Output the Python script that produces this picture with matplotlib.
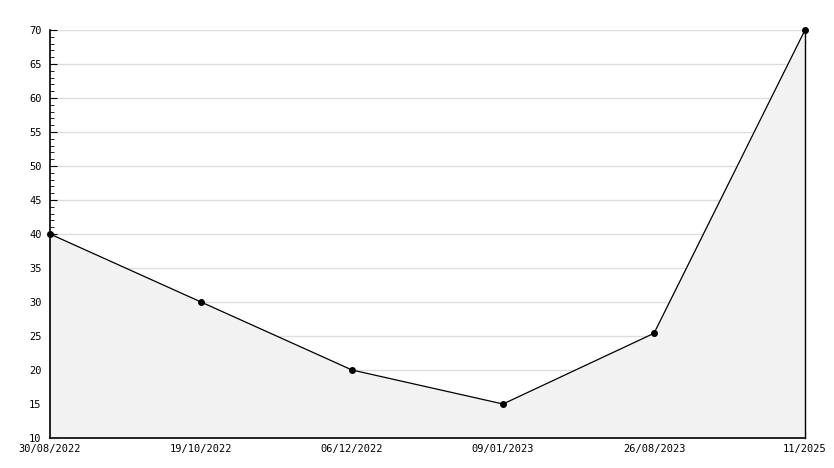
import matplotlib.pyplot as plt
from matplotlib.ticker import MultipleLocator

dates = ["30/08/2022", "19/10/2022", "06/12/2022", "09/01/2023", "26/08/2023", "11/2025"]
values = [40, 30, 20, 15, 25.4, 70]

plt.rcParams['font.family'] = ['DejaVu Sans Mono']

fig = plt.figure(figsize=(8.34, 4.68), dpi=100)
ax = fig.add_axes([50 / 834, 30 / 468, 755 / 834, 408 / 468])

x = list(range(len(dates)))
ax.fill_between(x, values, 10, color="#f2f2f2", zorder=1)
ax.plot([x[-1], x[-1]], [10, values[-1]], color="black", lw=1, zorder=2, clip_on=False)
ax.plot(x, values, color="black", lw=0.9, marker="o", markersize=4, zorder=3, clip_on=False)

ax.set_xlim(0, len(dates) - 1)
ax.set_ylim(10, 70)
ax.set_xticks(x)
ax.set_xticklabels(dates, fontsize=7.5)
ax.yaxis.set_major_locator(MultipleLocator(5))
ax.yaxis.set_minor_locator(MultipleLocator(1))
ax.tick_params(axis="y", which="major", direction="in", length=5, labelsize=7.5, pad=6)
ax.tick_params(axis="y", which="minor", direction="in", length=3)
ax.tick_params(axis="x", direction="in", length=5, labelsize=7.5, pad=4)

ax.grid(True, axis="y", color="#dddddd", lw=1, zorder=0)
ax.set_axisbelow(True)
for s in ["top", "right"]:
    ax.spines[s].set_visible(False)
for s in ["left", "bottom"]:
    ax.spines[s].set_linewidth(1.2)

fig.savefig("out.png", dpi=100)
